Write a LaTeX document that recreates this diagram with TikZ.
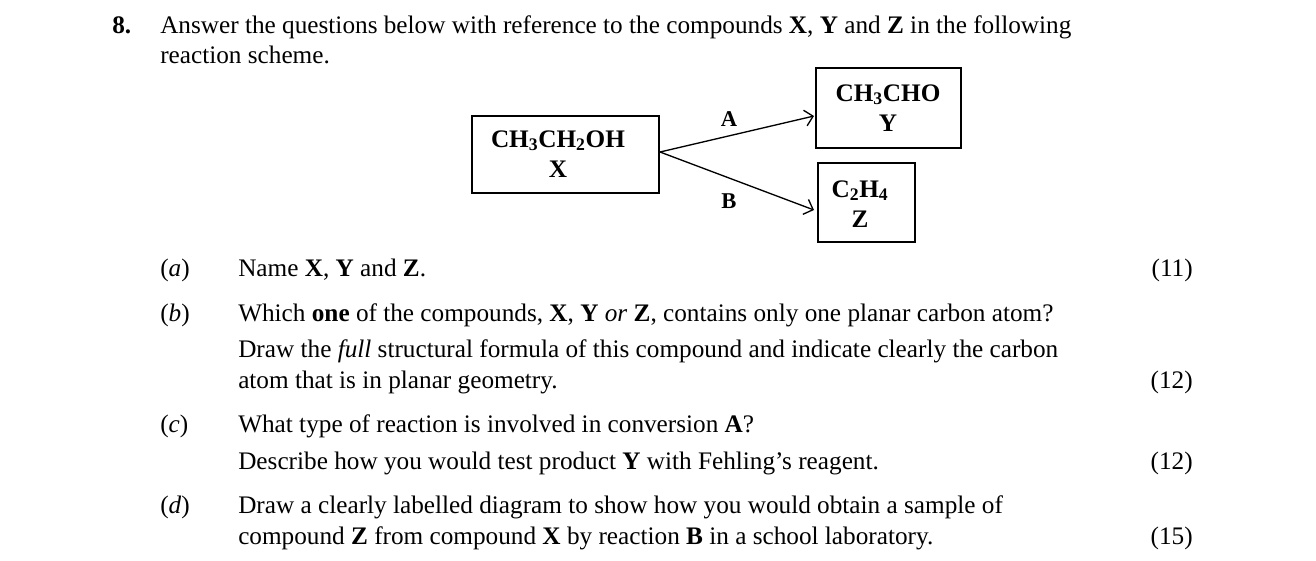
\documentclass[tikz,border=0pt]{standalone}
\usepackage{fontspec}
\setmainfont{Liberation Serif}
\usetikzlibrary{arrows.meta}
\begin{document}
\begin{tikzpicture}[x=0.02646cm,y=-0.02646cm,font=\fontsize{19}{23}\selectfont,
  line/.style={anchor=base west,inner sep=0pt},
  marks/.style={anchor=base east,inner sep=0pt},
  ctext/.style={font=\fontsize{19}{23}\selectfont\bfseries,align=center},
  tip/.style={->,line width=1pt,>={Straight Barb[length=6pt,width=12pt]}}]
  \useasboundingbox (0,0) rectangle (1316,560);
  \node[line] (q) at (112,33) {\textbf{8.}};
  \node[line] (l1) at (160,33) {Answer the questions below with reference to the compounds \textbf{X}, \textbf{Y} and \textbf{Z} in the following};
  \node[line] (l2) at (160,63) {reaction scheme.};

  % reaction scheme
  \draw[line width=1pt] (472,116) rectangle (659,193);
  \node[ctext] (xt) at (558,154) {CH\textsubscript{3}CH\textsubscript{2}OH\\X};
  \draw[line width=1pt] (816,68) rectangle (961,148);
  \node[ctext] (yt) at (888,108) {CH\textsubscript{3}CHO\\Y};
  \draw[line width=1pt] (818,163) rectangle (915,242);
  \node[ctext] (zt) at (860,204) {C\textsubscript{2}H\textsubscript{4}\\Z};
  \coordinate (xo) at (660,152);
  \coordinate (yi) at (814,116);
  \coordinate (zi) at (814,210);
  \draw[tip] (xo) -- (yi);
  \draw[tip] (xo) -- (zi);
  \node[font=\fontsize{17}{20}\selectfont\bfseries] (A) at (729,119) {A};
  \node[font=\fontsize{17}{20}\selectfont\bfseries] (B) at (729,201) {B};

  % parts
  \node[line] (pa) at (160,276) {(\textit{a})};
  \node[line] (ta) at (238,276) {Name \textbf{X}, \textbf{Y} and \textbf{Z}.};
  \node[marks] (ma) at (1193,276) {(11)};
  \node[line] (pb) at (160,321) {(\textit{b})};
  \node[line] (tb1) at (238,321) {Which \textbf{one} of the compounds, \textbf{X}, \textbf{Y} \textit{or} \textbf{Z}, contains only one planar carbon atom?};
  \node[line] (tb2) at (238,357) {Draw the \textit{full} structural formula of this compound and indicate clearly the carbon};
  \node[line] (tb3) at (238,388) {atom that is in planar geometry.};
  \node[marks] (mb) at (1193,388) {(12)};
  \node[line] (pc) at (160,432) {(\textit{c})};
  \node[line] (tc1) at (238,432) {What type of reaction is involved in conversion \textbf{A}?};
  \node[line] (tc2) at (238,469) {Describe how you would test product \textbf{Y} with Fehling’s reagent.};
  \node[marks] (mc) at (1193,469) {(12)};
  \node[line] (pd) at (160,513) {(\textit{d})};
  \node[line] (td1) at (238,513) {Draw a clearly labelled diagram to show how you would obtain a sample of};
  \node[line] (td2) at (238,544) {compound \textbf{Z} from compound \textbf{X} by reaction \textbf{B} in a school laboratory.};
  \node[marks] (md) at (1193,544) {(15)};
\end{tikzpicture}
\end{document}
